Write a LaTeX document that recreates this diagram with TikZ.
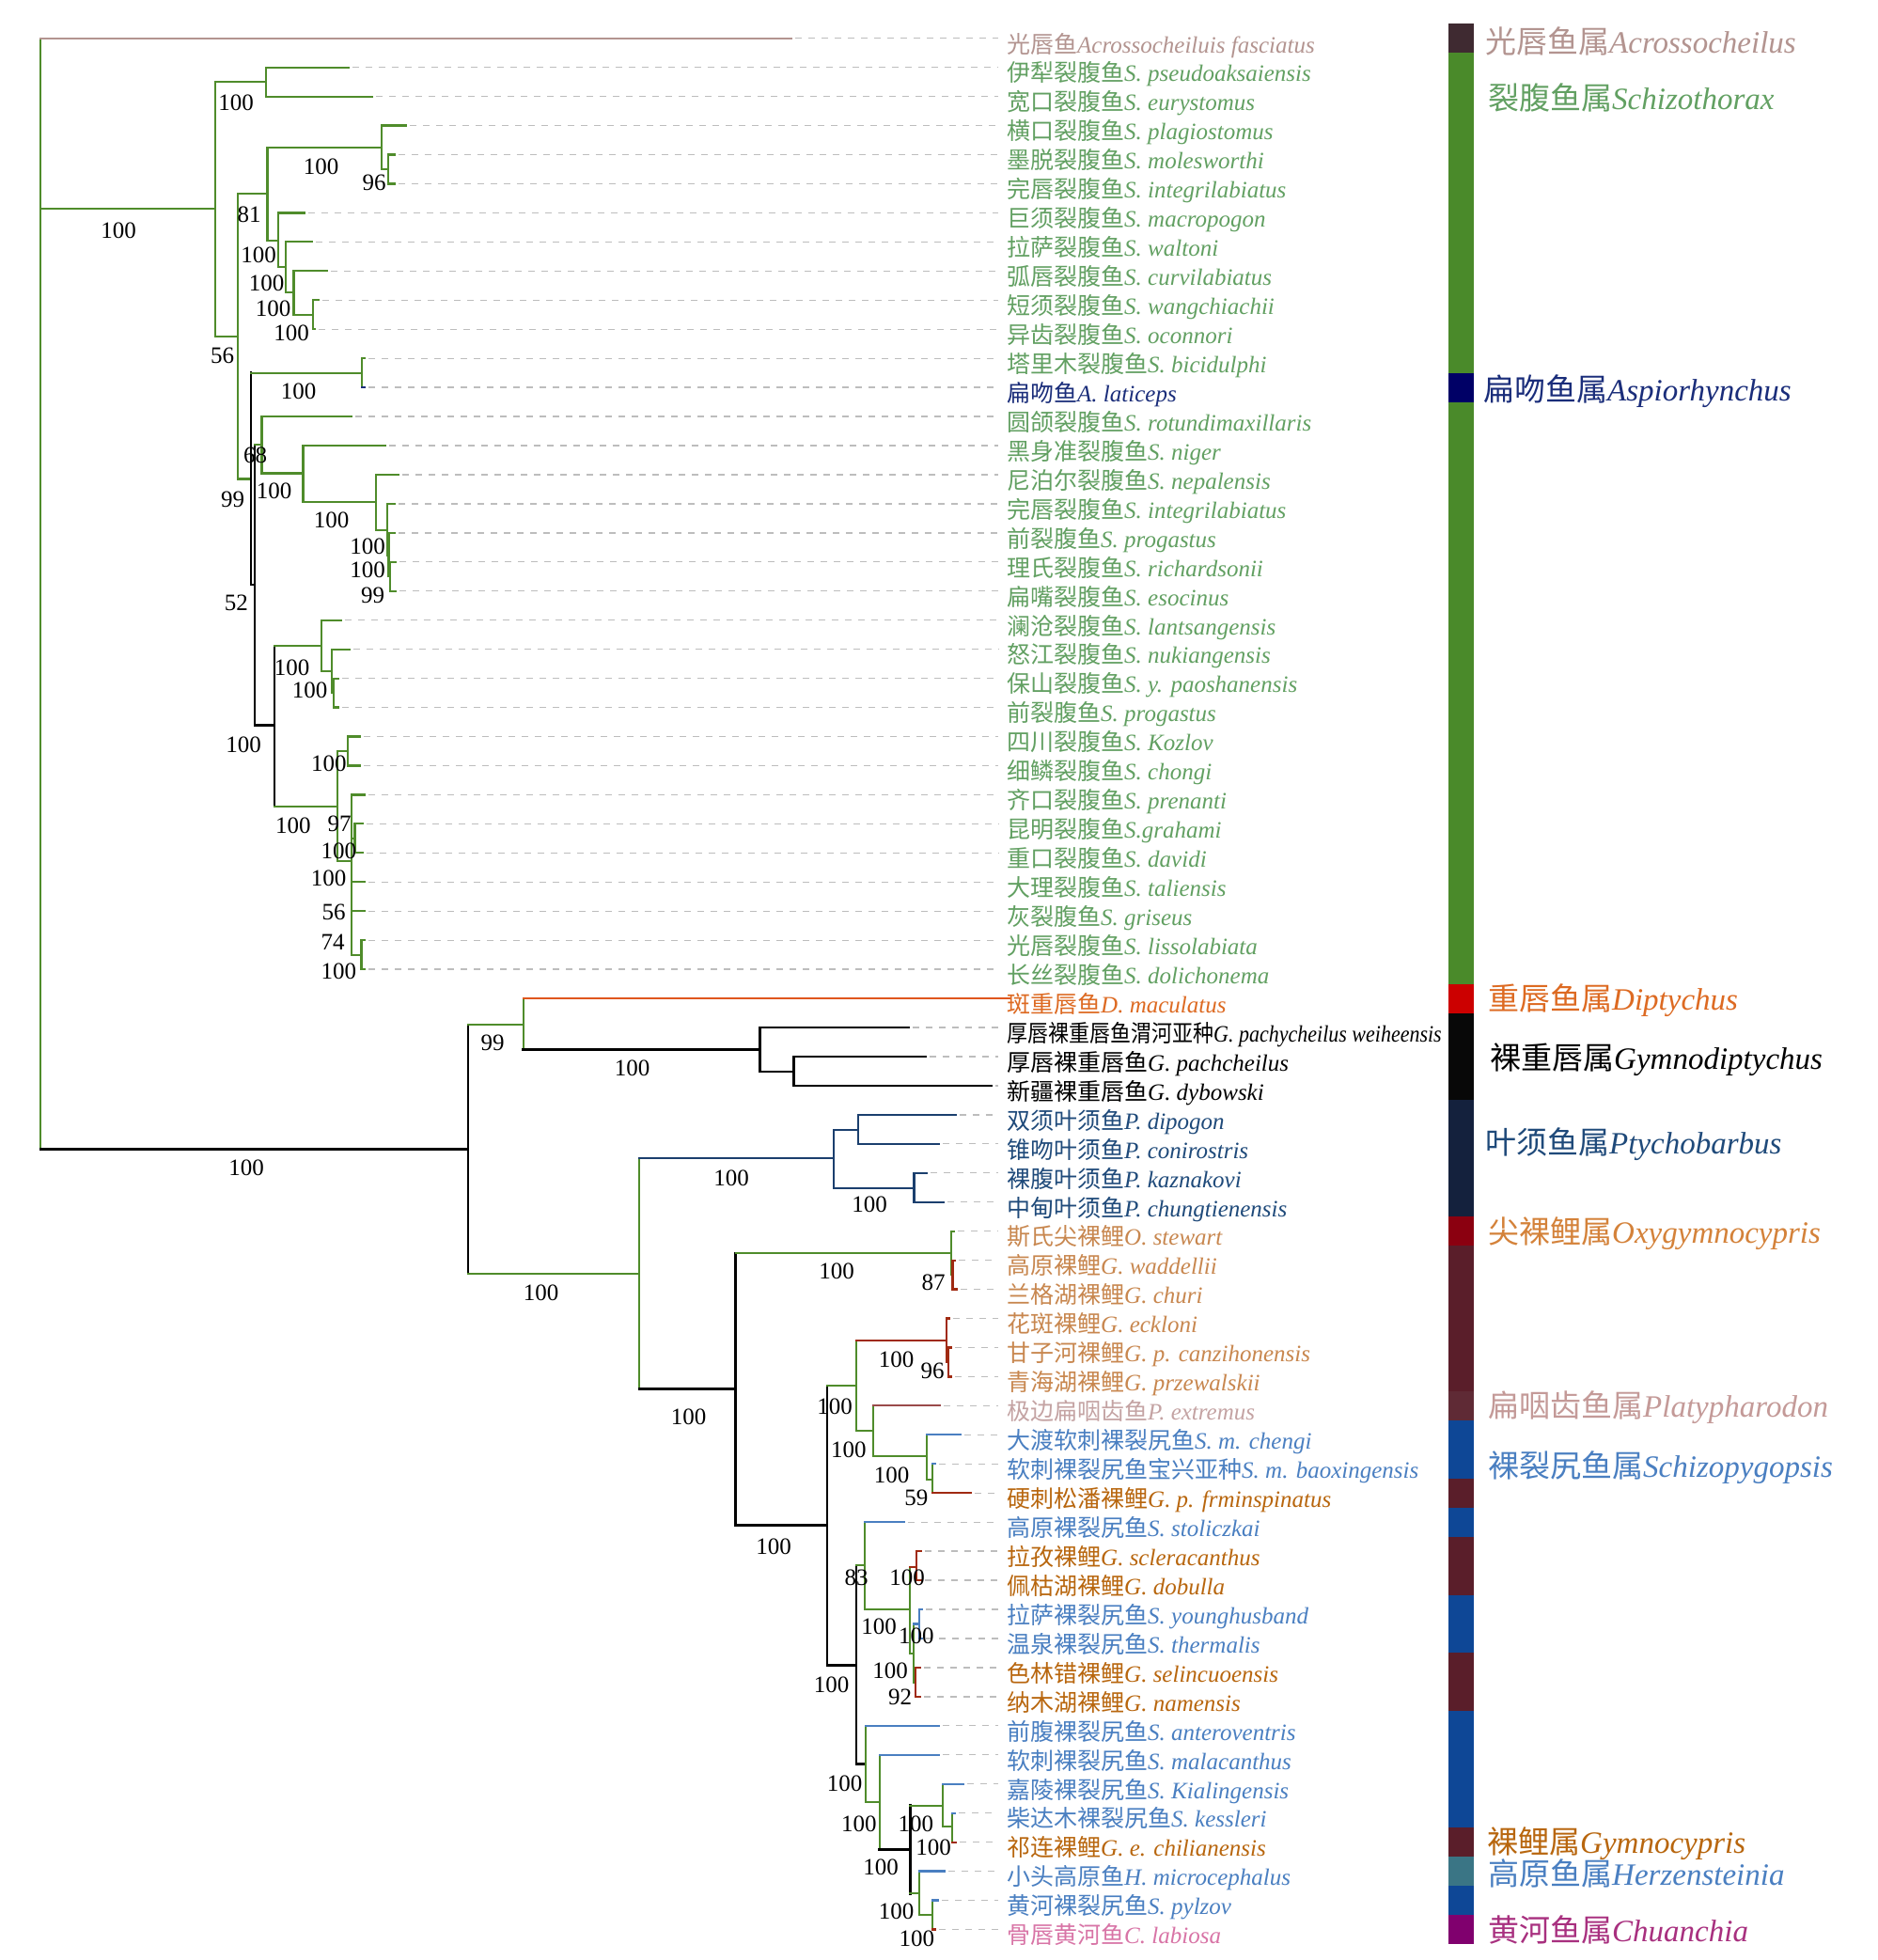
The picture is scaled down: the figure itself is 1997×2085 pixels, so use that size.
\documentclass[tikz,border=0pt]{standalone}
\usepackage{fontspec}
\setmainfont{Liberation Serif}
\newfontfamily\zh{Noto Sans CJK SC}
\definecolor{brgreen}{HTML}{4F8C2B}
\definecolor{txgreen}{HTML}{62A062}
\definecolor{rosy}{HTML}{B39490}
\definecolor{navytx}{HTML}{1A2D7A}
\definecolor{orangered}{HTML}{E0561E}
\definecolor{orangetx}{HTML}{DD6A22}
\definecolor{ptblue}{HTML}{1F4A7A}
\definecolor{ptbr}{HTML}{1B3F6E}
\definecolor{tan}{HTML}{C8874F}
\definecolor{brorange}{HTML}{B8660E}
\definecolor{pinkgray}{HTML}{C4A3A3}
\definecolor{spblue}{HTML}{4A7FC1}
\definecolor{pinktx}{HTML}{D874A6}
\definecolor{purpletx}{HTML}{A8307F}
\definecolor{darkred}{HTML}{A02A12}
\definecolor{platy}{HTML}{9A4A4A}
\definecolor{leadgray}{HTML}{BDBDBD}
\definecolor{oxytx}{HTML}{D4823A}
\definecolor{platytx}{HTML}{C49A98}
\definecolor{barzero}{HTML}{3F2A31}
\definecolor{bargreen}{HTML}{4A8A2A}
\definecolor{barnavy}{HTML}{000066}
\definecolor{barred}{HTML}{CC0000}
\definecolor{barblack}{HTML}{080808}
\definecolor{bardnavy}{HTML}{14213D}
\definecolor{bardred}{HTML}{8B0010}
\definecolor{barmaroon}{HTML}{5A1E2A}
\definecolor{barmaroontwo}{HTML}{5F2A35}
\definecolor{barblue}{HTML}{0E4796}
\definecolor{barteal}{HTML}{3A7585}
\definecolor{barpurple}{HTML}{80006E}
\tikzset{
  br/.style={line width=2.2pt, line cap=rect},
  gbr/.style={br, draw=brgreen},
  kbr/.style={br, draw=black, line width=2.5pt},
  rbr/.style={br, draw=rosy},
  obr/.style={br, draw=orangered},
  pbr/.style={br, draw=ptbr},
  dbr/.style={br, draw=darkred},
  sbr/.style={br, draw=spblue},
  nbr/.style={br, draw=navytx},
  platybr/.style={br, draw=platy},
  lead/.style={draw=leadgray, line width=1.3pt, dash pattern=on 7pt off 7pt},
  sv/.style={font=\fontsize{25}{25}\selectfont, inner sep=0pt, text=black},
  sp/.style={anchor=base west, inner sep=0pt, font=\fontsize{25}{25}\selectfont},
  leg/.style={anchor=base west, inner sep=0pt, font=\fontsize{33}{33}\selectfont},
}
\begin{document}
\begin{tikzpicture}[x=1pt,y=-1pt, declare function={ly(\i)=40.7+30.95*\i;}]
\useasboundingbox (0,0) rectangle (1997,2085);
\fill[white] (0,0) rectangle (1997,2085);

% ---------- leaders ----------
\foreach \i/\e in {0/842,1/370.5,2/396,3/432,4/419.6,5/419.6,6/323.7,7/332,8/348,9/339,10/335,
 11/388,12/388,13/374,14/409.7,15/424,16/420,17/420,18/421,19/421,20/362.6,21/371.5,22/360,23/360,
 24/383,25/383,26/387.5,27/385.6,28/385.6,29/387.5,30/387.5,31/388,32/388,34/966.8,35/984.7,36/1055,
 37/1016.8,38/999,39/986,40/1004,41/1015,42/1016,43/1018,44/1010,45/1012,46/1012,47/1000,48/1021.7,
 49/995,50/1033.3,51/961.7,52/980,53/980,54/981,55/981,56/979,57/979,58/999.3,59/999.3,60/1025,
 61/1016,62/1017,63/1005,64/998.3,65/995}
  \draw[lead] (\e+4,{ly(\i)}) -- (1062,{ly(\i)});

% ---------- upper tree (Schizothorax) ----------
\draw[gbr] (43.3,{ly(0)}) -- (43.3,1222.3);
\draw[rbr] (43.3,{ly(0)}) -- (842,{ly(0)});
\draw[gbr] (43.3,221.7) -- (229,221.7);
\draw[gbr] (229,87.3) -- (229,357.7);
\draw[gbr] (229,87.3) -- (282.6,87.3);
\draw[gbr] (282.6,{ly(1)}) -- (282.6,{ly(2)});
\draw[gbr] (282.6,{ly(1)}) -- (370.5,{ly(1)});
\draw[gbr] (282.6,{ly(2)}) -- (396,{ly(2)});
\draw[gbr] (229,357.7) -- (252.7,357.7);
\draw[gbr] (252.7,206) -- (252.7,509.5);
\draw[gbr] (252.7,206) -- (284.4,206);
\draw[gbr] (284.4,156.7) -- (284.4,255.7);
\draw[gbr] (284.4,156.7) -- (406.3,156.7);
\draw[gbr] (406.3,{ly(3)}) -- (406.3,180.3);
\draw[gbr] (406.3,{ly(3)}) -- (432,{ly(3)});
\draw[gbr] (406.3,180.3) -- (413,180.3);
\draw[gbr] (413,{ly(4)}) -- (413,{ly(5)});
\draw[gbr] (413,{ly(4)}) -- (419.6,{ly(4)});
\draw[gbr] (413,{ly(5)}) -- (419.6,{ly(5)});
\draw[gbr] (284.4,255.7) -- (296,255.7);
\draw[gbr] (296,{ly(6)}) -- (296,284.3);
\draw[gbr] (296,{ly(6)}) -- (323.7,{ly(6)});
\draw[gbr] (296,284.3) -- (303.6,284.3);
\draw[gbr] (303.6,{ly(7)}) -- (303.6,311);
\draw[gbr] (303.6,{ly(7)}) -- (332,{ly(7)});
\draw[gbr] (303.6,311) -- (312.5,311);
\draw[gbr] (312.5,{ly(8)}) -- (312.5,335);
\draw[gbr] (312.5,{ly(8)}) -- (348,{ly(8)});
\draw[gbr] (312.5,335) -- (332.6,335);
\draw[gbr] (332.6,{ly(9)}) -- (332.6,{ly(10)});
\draw[gbr] (332.6,{ly(9)}) -- (339,{ly(9)});
\draw[gbr] (332.6,{ly(10)}) -- (335,{ly(10)});
% D1 / D2
\draw[gbr] (252.7,509.5) -- (267,509.5);
\draw[kbr] (267,396.7) -- (267,622);
\draw[gbr] (267,396.7) -- (384.8,396.7);
\draw[gbr] (384.8,{ly(11)}) -- (384.8,{ly(12)});
\draw[gbr] (384.8,{ly(11)}) -- (388,{ly(11)});
\draw[nbr] (384.8,{ly(12)}) -- (388,{ly(12)});
\draw[kbr] (267,622) -- (271,622);
\draw[kbr] (271,473) -- (271,771.5);
\draw[gbr] (271,473) -- (278.5,473);
\draw[gbr] (278.5,{ly(13)}) -- (278.5,503.5);
\draw[gbr] (278.5,{ly(13)}) -- (374,{ly(13)});
\draw[gbr] (278.5,503.5) -- (322.5,503.5);
\draw[gbr] (322.5,{ly(14)}) -- (322.5,533.7);
\draw[gbr] (322.5,{ly(14)}) -- (409.7,{ly(14)});
\draw[gbr] (322.5,533.7) -- (400,533.7);
\draw[gbr] (400,{ly(15)}) -- (400,563.8);
\draw[gbr] (400,{ly(15)}) -- (424,{ly(15)});
\draw[gbr] (400,563.8) -- (411.6,563.8);
\draw[gbr] (411.6,{ly(16)}) -- (411.6,591.2);
\draw[gbr] (411.6,{ly(16)}) -- (420,{ly(16)});
\draw[gbr] (411.6,591.2) -- (413.5,591.2);
\draw[gbr] (413.5,{ly(17)}) -- (413.5,613.3);
\draw[gbr] (413.5,{ly(17)}) -- (420,{ly(17)});
\draw[gbr] (413.5,613.3) -- (415,613.3);
\draw[gbr] (415,{ly(18)}) -- (415,{ly(19)});
\draw[gbr] (415,{ly(18)}) -- (421,{ly(18)});
\draw[gbr] (415,{ly(19)}) -- (421,{ly(19)});
% F
\draw[kbr] (271,771.5) -- (291.8,771.5);
\draw[kbr] (291.8,687) -- (291.8,858);
\draw[gbr] (291.8,687) -- (341.6,687);
\draw[gbr] (341.6,{ly(20)}) -- (341.6,713.7);
\draw[gbr] (341.6,{ly(20)}) -- (362.6,{ly(20)});
\draw[gbr] (341.6,713.7) -- (353,713.7);
\draw[gbr] (353,{ly(21)}) -- (353,737);
\draw[gbr] (353,{ly(21)}) -- (371.5,{ly(21)});
\draw[gbr] (353,737) -- (355,737);
\draw[gbr] (355,{ly(22)}) -- (355,{ly(23)});
\draw[gbr] (355,{ly(22)}) -- (360,{ly(22)});
\draw[gbr] (355,{ly(23)}) -- (360,{ly(23)});
\draw[gbr] (291.8,858) -- (358.8,858);
\draw[gbr] (358.8,798.8) -- (358.8,916);
\draw[gbr] (358.8,798.8) -- (370.3,798.8);
\draw[gbr] (370.3,{ly(24)}) -- (370.3,{ly(25)});
\draw[gbr] (370.3,{ly(24)}) -- (383,{ly(24)});
\draw[gbr] (370.3,{ly(25)}) -- (383,{ly(25)});
\draw[gbr] (358.8,916) -- (374,916);
\draw[gbr] (374,{ly(26)}) -- (374,1015.6);
\draw[gbr] (374,{ly(26)}) -- (387.5,{ly(26)});
\draw[gbr] (374,891.8) -- (377.5,891.8);
\draw[gbr] (377.5,{ly(27)}) -- (377.5,{ly(28)});
\draw[gbr] (377.5,{ly(27)}) -- (385.6,{ly(27)});
\draw[gbr] (377.5,{ly(28)}) -- (385.6,{ly(28)});
\draw[gbr] (374,{ly(29)}) -- (387.5,{ly(29)});
\draw[gbr] (374,{ly(30)}) -- (387.5,{ly(30)});
\draw[gbr] (374,1015.6) -- (384.5,1015.6);
\draw[gbr] (384.5,{ly(31)}) -- (384.5,{ly(32)});
\draw[gbr] (384.5,{ly(31)}) -- (388,{ly(31)});
\draw[gbr] (384.5,{ly(32)}) -- (388,{ly(32)});

% ---------- lower tree ----------
\draw[kbr] (43.3,1222.3) -- (498,1222.3);
\draw[kbr] (498,1090) -- (498,1355);
\draw[gbr] (498,1090) -- (556.6,1090);
\draw[gbr] (556.6,{ly(33)}) -- (556.6,1116.7);
\draw[obr] (556.6,{ly(33)}) -- (1075,{ly(33)});
\draw[kbr] (556.6,1116.7) -- (808.7,1116.7);
\draw[kbr] (808.7,{ly(34)}) -- (808.7,1140);
\draw[kbr] (808.7,{ly(34)}) -- (966.8,{ly(34)});
\draw[kbr] (808.7,1140) -- (844.4,1140);
\draw[kbr] (844.4,{ly(35)}) -- (844.4,{ly(36)});
\draw[kbr] (844.4,{ly(35)}) -- (984.7,{ly(35)});
\draw[kbr] (844.4,{ly(36)}) -- (1055,{ly(36)});
\draw[gbr] (498,1355) -- (680,1355);
\draw[gbr] (680,1232.3) -- (680,1477.7);
\draw[pbr] (680,1232.3) -- (886.7,1232.3);
\draw[pbr] (886.7,1201.7) -- (886.7,1264);
\draw[pbr] (886.7,1201.7) -- (913.3,1201.7);
\draw[pbr] (913.3,{ly(37)}) -- (913.3,{ly(38)});
\draw[pbr] (913.3,{ly(37)}) -- (1016.8,{ly(37)});
\draw[pbr] (913.3,{ly(38)}) -- (999,{ly(38)});
\draw[pbr] (886.7,1264) -- (972.4,1264);
\draw[pbr] (972.4,{ly(39)}) -- (972.4,{ly(40)});
\draw[pbr] (972.4,{ly(39)}) -- (986,{ly(39)});
\draw[pbr] (972.4,{ly(40)}) -- (1004,{ly(40)});
\draw[kbr] (680,1477.7) -- (782.7,1477.7);
\draw[kbr] (782.7,1333.3) -- (782.7,1622.3);
\draw[gbr] (782.7,1333.3) -- (1011.7,1333.3);
\draw[gbr] (1011.7,{ly(41)}) -- (1011.7,1356);
\draw[gbr] (1011.7,{ly(41)}) -- (1015,{ly(41)});
\draw[gbr] (1011.7,1356) -- (1013.5,1356);
\draw[dbr] (1013.5,{ly(42)}) -- (1013.5,{ly(43)});
\draw[dbr] (1013.5,{ly(42)}) -- (1016,{ly(42)});
\draw[dbr] (1013.5,{ly(43)}) -- (1018,{ly(43)});
\draw[kbr] (782.7,1622.3) -- (880,1622.3);
\draw[kbr] (880,1474) -- (880,1771.7);
\draw[gbr] (880,1474) -- (911,1474);
\draw[gbr] (911,1426) -- (911,1521.7);
\draw[dbr] (911,1426) -- (1006.7,1426);
\draw[dbr] (1006.7,{ly(44)}) -- (1006.7,1449);
\draw[dbr] (1006.7,{ly(44)}) -- (1010,{ly(44)});
\draw[dbr] (1006.7,1449) -- (1009,1449);
\draw[dbr] (1009,{ly(45)}) -- (1009,{ly(46)});
\draw[dbr] (1009,{ly(45)}) -- (1012,{ly(45)});
\draw[dbr] (1009,{ly(46)}) -- (1012,{ly(46)});
\draw[gbr] (911,1521.7) -- (929.3,1521.7);
\draw[gbr] (929.3,{ly(47)}) -- (929.3,1549);
\draw[platybr] (929.3,{ly(47)}) -- (1000,{ly(47)});
\draw[gbr] (929.3,1549) -- (986,1549);
\draw[gbr] (986,{ly(48)}) -- (986,1574);
\draw[sbr] (986,{ly(48)}) -- (1021.7,{ly(48)});
\draw[gbr] (986,1574) -- (992.3,1574);
\draw[gbr] (992.3,{ly(49)}) -- (992.3,{ly(50)});
\draw[sbr] (992.3,{ly(49)}) -- (995,{ly(49)});
\draw[dbr] (992.3,{ly(50)}) -- (1033.3,{ly(50)});
\draw[kbr] (880,1771.7) -- (911,1771.7);
\draw[kbr] (911,1665) -- (911,1876.7);
\draw[gbr] (911,1665) -- (920,1665);
\draw[gbr] (920,{ly(51)}) -- (920,1711.7);
\draw[sbr] (920,{ly(51)}) -- (961.7,{ly(51)});
\draw[gbr] (920,1711.7) -- (968.3,1711.7);
\draw[gbr] (968.3,1666.7) -- (968.3,1759.3);
\draw[dbr] (968.3,1666.7) -- (975,1666.7);
\draw[dbr] (975,{ly(52)}) -- (975,{ly(53)});
\draw[dbr] (975,{ly(52)}) -- (980,{ly(52)});
\draw[dbr] (975,{ly(53)}) -- (980,{ly(53)});
\draw[gbr] (968.3,1759.3) -- (972,1759.3);
\draw[gbr] (972,1727.5) -- (972,1789.4);
\draw[sbr] (972,1727.5) -- (977.7,1727.5);
\draw[sbr] (977.7,{ly(54)}) -- (977.7,{ly(55)});
\draw[sbr] (977.7,{ly(54)}) -- (981,{ly(54)});
\draw[sbr] (977.7,{ly(55)}) -- (981,{ly(55)});
\draw[gbr] (972,1789.4) -- (974,1789.4);
\draw[dbr] (974,{ly(56)}) -- (974,{ly(57)});
\draw[dbr] (974,{ly(56)}) -- (979,{ly(56)});
\draw[dbr] (974,{ly(57)}) -- (979,{ly(57)});
\draw[kbr] (911,1876.7) -- (921,1876.7);
\draw[gbr] (921,{ly(58)}) -- (921,1917.3);
\draw[sbr] (921,{ly(58)}) -- (999.3,{ly(58)});
\draw[gbr] (921,1917.3) -- (935.7,1917.3);
\draw[gbr] (935.7,{ly(59)}) -- (935.7,1967.3);
\draw[sbr] (935.7,{ly(59)}) -- (999.3,{ly(59)});
\draw[kbr] (935.7,1967.3) -- (968.3,1967.3);
\draw[kbr] (968.3,1920.7) -- (968.3,2014.3);
\draw[gbr] (968.3,1920.7) -- (1003.3,1920.7);
\draw[gbr] (1003.3,{ly(60)}) -- (1003.3,1943.3);
\draw[sbr] (1003.3,{ly(60)}) -- (1025,{ly(60)});
\draw[gbr] (1003.3,1943.3) -- (1013.3,1943.3);
\draw[gbr] (1013.3,{ly(61)}) -- (1013.3,{ly(62)});
\draw[sbr] (1013.3,{ly(61)}) -- (1016,{ly(61)});
\draw[dbr] (1013.3,{ly(62)}) -- (1017,{ly(62)});
\draw[gbr] (968.3,2014.3) -- (977.7,2014.3);
\draw[gbr] (977.7,{ly(63)}) -- (977.7,2036.7);
\draw[sbr] (977.7,{ly(63)}) -- (1005,{ly(63)});
\draw[gbr] (977.7,2036.7) -- (991.7,2036.7);
\draw[gbr] (991.7,{ly(64)}) -- (991.7,{ly(65)});
\draw[sbr] (991.7,{ly(64)}) -- (998.3,{ly(64)});
\draw[dbr] (991.7,{ly(65)}) -- (995,{ly(65)});

% ---------- support values ----------
\foreach \x/\y/\t [count=\n] in {126/245/100,251/109/100,341.5/177/100,398/194/96,265/228/81,
 275/271.5/100,283.5/301/100,290.5/328.5/100,310/354/100,236.7/378/56,317.5/416.5/100,
 271.5/484.5/68,247.5/531.5/99,291.5/522.5/100,352.5/553.5/100,391.2/581.5/100,391.2/606/100,
 396.5/633/99,251.3/641/52,310.5/710/100,329.5/734.3/100,259/792/100,349.8/812.3/100,
 311.8/878.5/100,361/876/97,360.3/905/100,349.6/934.5/100,355/970.5/56,354/1002.5/74,
 360.4/1033.3/100,262/1242/100,524/1109/99,672.5/1136/100,575.6/1375/100,778/1253/100,
 925.2/1281.7/100,890/1352.7/100,993.2/1364.5/87,953.5/1446/100,992.2/1458/96,732.5/1507/100,
 888.2/1496.4/100,902.8/1542.7/100,948.7/1569.2/100,974.8/1593.5/59,823.2/1645/100,
 911/1678.2/83,965/1678.5/100,935/1730/100,974.8/1740.5/100,947/1777.2/100,957.6/1805.3/92,
 884.5/1792.7/100,898.6/1897.4/100,913.9/1940/100,974.3/1940.4/100,993.2/1965.4/100,
 937.2/1986.4/100,953.5/2033.2/100,975.3/2062.7/100}
  \node[sv] (sv\n) at (\x,\y) {\t};

% ---------- species labels ----------
\foreach \i/\c/\zn/\la in {0/rosy/光唇鱼/Acrossocheiluis fasciatus,
 1/txgreen/伊犁裂腹鱼/S. pseudoaksaiensis, 2/txgreen/宽口裂腹鱼/S. eurystomus,
 3/txgreen/横口裂腹鱼/S. plagiostomus, 4/txgreen/墨脱裂腹鱼/S. molesworthi,
 5/txgreen/完唇裂腹鱼/S. integrilabiatus, 6/txgreen/巨须裂腹鱼/S. macropogon,
 7/txgreen/拉萨裂腹鱼/S. waltoni, 8/txgreen/弧唇裂腹鱼/S. curvilabiatus,
 9/txgreen/短须裂腹鱼/S. wangchiachii, 10/txgreen/异齿裂腹鱼/S. oconnori,
 11/txgreen/塔里木裂腹鱼/S. bicidulphi, 12/navytx/扁吻鱼/A. laticeps,
 13/txgreen/圆颌裂腹鱼/S. rotundimaxillaris, 14/txgreen/黑身准裂腹鱼/S. niger,
 15/txgreen/尼泊尔裂腹鱼/S. nepalensis, 16/txgreen/完唇裂腹鱼/S. integrilabiatus,
 17/txgreen/前裂腹鱼/S. progastus, 18/txgreen/理氏裂腹鱼/S. richardsonii,
 19/txgreen/扁嘴裂腹鱼/S. esocinus, 20/txgreen/澜沧裂腹鱼/S. lantsangensis,
 21/txgreen/怒江裂腹鱼/S. nukiangensis, 22/txgreen/保山裂腹鱼/S. y. paoshanensis,
 23/txgreen/前裂腹鱼/S. progastus, 24/txgreen/四川裂腹鱼/S. Kozlov,
 25/txgreen/细鳞裂腹鱼/S. chongi, 26/txgreen/齐口裂腹鱼/S. prenanti,
 27/txgreen/昆明裂腹鱼/S.grahami, 28/txgreen/重口裂腹鱼/S. davidi,
 29/txgreen/大理裂腹鱼/S. taliensis, 30/txgreen/灰裂腹鱼/S. griseus,
 31/txgreen/光唇裂腹鱼/S. lissolabiata, 32/txgreen/长丝裂腹鱼/S. dolichonema,
 33/orangetx/斑重唇鱼/D. maculatus,
 35/black/厚唇裸重唇鱼/G. pachcheilus, 36/black/新疆裸重唇鱼/G. dybowski,
 37/ptblue/双须叶须鱼/P. dipogon, 38/ptblue/锥吻叶须鱼/P. conirostris,
 39/ptblue/裸腹叶须鱼/P. kaznakovi, 40/ptblue/中甸叶须鱼/P. chungtienensis,
 41/tan/斯氏尖裸鲤/O. stewart, 42/tan/高原裸鲤/G. waddellii, 43/tan/兰格湖裸鲤/G. churi,
 44/tan/花斑裸鲤/G. eckloni, 45/tan/甘子河裸鲤/G. p. canzihonensis,
 46/tan/青海湖裸鲤/G. przewalskii, 47/pinkgray/极边扁咽齿鱼/P. extremus,
 48/spblue/大渡软刺裸裂尻鱼/S. m. chengi, 49/spblue/软刺裸裂尻鱼宝兴亚种/S. m. baoxingensis,
 50/brorange/硬刺松潘裸鲤/G. p. frminspinatus, 51/spblue/高原裸裂尻鱼/S. stoliczkai,
 52/brorange/拉孜裸鲤/G. scleracanthus, 53/brorange/佩枯湖裸鲤/G. dobulla,
 54/spblue/拉萨裸裂尻鱼/S. younghusband, 55/spblue/温泉裸裂尻鱼/S. thermalis,
 56/brorange/色林错裸鲤/G. selincuoensis, 57/brorange/纳木湖裸鲤/G. namensis,
 58/spblue/前腹裸裂尻鱼/S. anteroventris, 59/spblue/软刺裸裂尻鱼/S. malacanthus,
 60/spblue/嘉陵裸裂尻鱼/S. Kialingensis, 61/spblue/柴达木裸裂尻鱼/S. kessleri,
 62/brorange/祁连裸鲤/G. e. chilianensis, 63/spblue/小头高原鱼/H. microcephalus,
 64/spblue/黄河裸裂尻鱼/S. pylzov, 65/pinktx/骨唇黄河鱼/C. labiosa}
  \node[sp, text=\c] (L\i) at (1071,{ly(\i)+15.3}) {{\zh \zn}\textit{\la}};
\node[sp, text=black] (L34) at (1071,{ly(34)+15.3}) {\scalebox{0.88}[1]{{\zh 厚唇裸重唇鱼渭河亚种}\textit{G. pachycheilus weiheensis}}};

% ---------- legend bar ----------
\foreach \a/\b/\c in {0/0/barzero,1/11/bargreen,12/12/barnavy,13/32/bargreen,33/33/barred,
 34/36/barblack,37/40/bardnavy,41/41/bardred,42/46/barmaroon,47/47/barmaroontwo,48/49/barblue,
 50/50/barmaroon,51/51/barblue,52/53/barmaroon,54/55/barblue,56/57/barmaroon,58/61/barblue,
 62/62/barmaroon,63/63/barteal,64/64/barblue,65/65/barpurple}
  \fill[\c] (1541,{ly(\a)-15.5}) rectangle (1568,{ly(\b)+15.5});

% ---------- legend labels ----------
\node[leg, text=rosy] (g1) at (1580,56) {{\zh 光唇鱼属}\textit{Acrossocheilus}};
\node[leg, text=txgreen] (g2) at (1583,116.5) {{\zh 裂腹鱼属}\textit{Schizothorax}};
\node[leg, text=navytx] (g3) at (1578,426.5) {{\zh 扁吻鱼属}\textit{Aspiorhynchus}};
\node[leg, text=orangetx] (g4) at (1583,1074.5) {{\zh 重唇鱼属}\textit{Diptychus}};
\node[leg, text=black] (g5) at (1585,1137.5) {{\zh 裸重唇属}\textit{Gymnodiptychus}};
\node[leg, text=ptblue] (g6) at (1580,1227.5) {{\zh 叶须鱼属}\textit{Ptychobarbus}};
\node[leg, text=oxytx] (g7) at (1583,1322.5) {{\zh 尖裸鲤属}\textit{Oxygymnocypris}};
\node[leg, text=platytx] (g8) at (1583,1507.5) {{\zh 扁咽齿鱼属}\textit{Platypharodon}};
\node[leg, text=spblue] (g9) at (1583,1571.5) {{\zh 裸裂尻鱼属}\textit{Schizopygopsis}};
\node[leg, text=brorange] (g10) at (1582,1971.5) {{\zh 裸鲤属}\textit{Gymnocypris}};
\node[leg, text=spblue] (g11) at (1583,2005.5) {{\zh 高原鱼属}\textit{Herzensteinia}};
\node[leg, text=purpletx] (g12) at (1583,2065.5) {{\zh 黄河鱼属}\textit{Chuanchia}};
\end{tikzpicture}
\end{document}
